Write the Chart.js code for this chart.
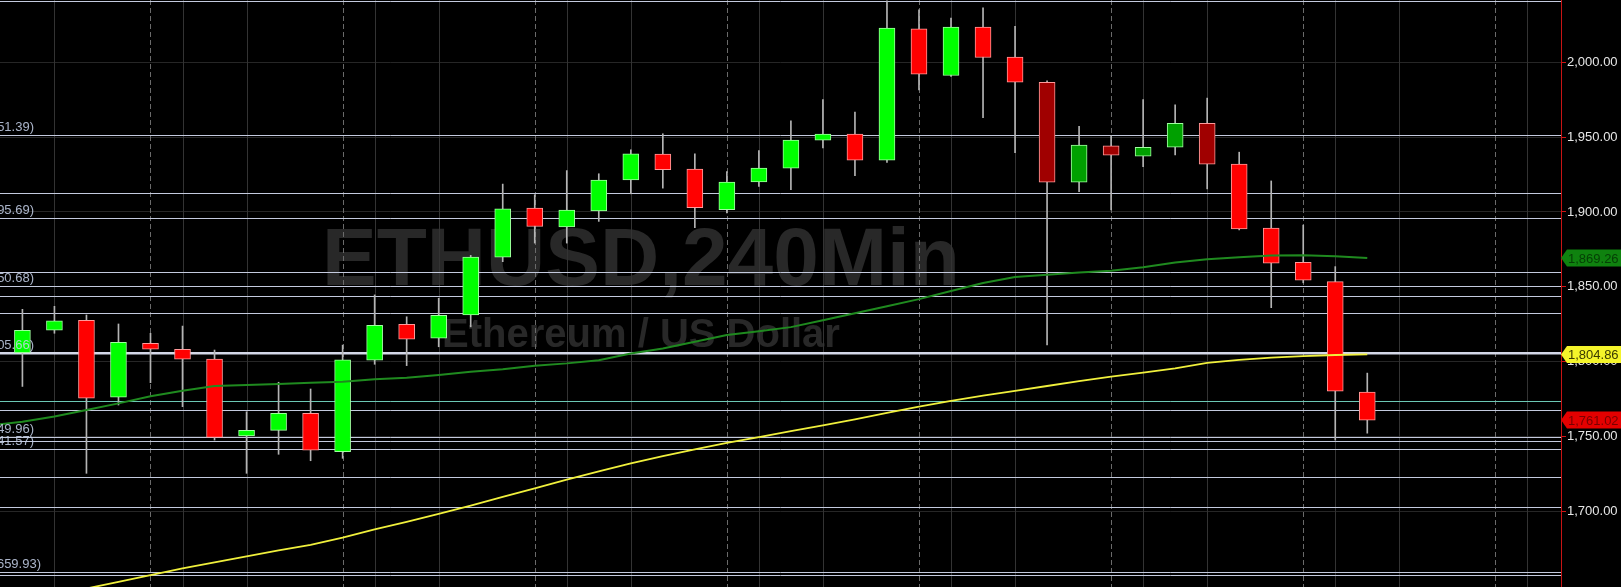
<!DOCTYPE html>
<html>
<head>
<meta charset="utf-8">
<title>ETHUSD,240Min</title>
<script src="https://cdn.jsdelivr.net/npm/chart.js@4.4.0/dist/chart.umd.min.js"></script>
<style>
  html, body { margin: 0; padding: 0; background: #000; overflow: hidden; }
  #wrap { width: 1621px; height: 587px; position: relative; }
</style>
</head>
<body>
<div id="wrap"><canvas id="chart"></canvas></div>
<script>
// 4h candles, oldest first
const opens = [1806, 1821, 1827.7, 1776.3, 1812.3, 1808.3, 1801.7, 1750.4, 1754.2, 1765.6,
  1739.9, 1801, 1825, 1815.7, 1831.2, 1869.8, 1902.6, 1890, 1900.6, 1921.3,
  1938.6, 1928.6, 1901.6, 1920, 1929.3, 1948, 1952, 1934.6, 2022.2, 1991.1,
  2023.5, 2003.4, 1986.6, 1919.9, 1944.1, 1937.3, 1943.2, 1959.2, 1931.9, 1889.2,
  1866.4, 1853.5, 1779.7];
const highs = [1835, 1837, 1831.2, 1825.2, 1819, 1823.8, 1807.8, 1766.6, 1786.3, 1781.8,
  1811.1, 1844.6, 1830, 1842.4, 1871, 1918.6, 1911.5, 1927.6, 1925.5, 1941.5,
  1952.2, 1938.8, 1927, 1940.9, 1960.9, 1975, 1966.7, 2041, 2035, 2029.4,
  2036.2, 2023.9, 1987.5, 1957.1, 1951, 1975, 1971.5, 1976, 1939.9, 1920.7,
  1891.2, 1863.5, 1792.4];
const lows = [1783.5, 1819, 1725.5, 1771.1, 1786, 1770, 1747.7, 1725.5, 1738.2, 1733.9,
  1735.5, 1798.3, 1797.4, 1810, 1823.3, 1866.8, 1879.2, 1879.2, 1893.7, 1912.1,
  1915.9, 1889.5, 1899.3, 1917, 1914.8, 1942.7, 1924.3, 1933, 1981.5, 1990.4,
  1962.9, 1939.5, 1811.3, 1913.6, 1901.3, 1930.3, 1938.1, 1915.4, 1888, 1836.1,
  1852.7, 1747.7, 1752.3];
const closes = [1821, 1827.3, 1775.6, 1813, 1808.3, 1801.7, 1749.5, 1754.2, 1765.6, 1740.9,
  1801.2, 1824.3, 1815, 1831, 1869.8, 1902, 1890.3, 1901.3, 1921.3, 1938.8,
  1928.3, 1902.9, 1920, 1929.3, 1948, 1952, 1934.6, 2022.7, 1992, 2023.5,
  2003.1, 1986.6, 1919.9, 1944.6, 1937.9, 1943.2, 1959.2, 1931.9, 1888.6, 1865.8,
  1854.4, 1780.3, 1761.02];
// candles painted in the dimmer colours
const dimBars = [32, 33, 34, 35, 36, 37];

// moving averages start one bar before the first visible candle
const maStart = -1;
const maGreen = [1757.5, 1760, 1763.5, 1767.7, 1772.2, 1777, 1780.6, 1783.8, 1784.5, 1785.1, 1786,
  1786.7, 1788.3, 1789.3, 1791.1, 1793.3, 1794.9, 1797.3, 1798.9, 1801, 1805.5,
  1808.9, 1813.3, 1817.8, 1820.4, 1823.1, 1827.7, 1832.4, 1837.1, 1841.8, 1847.2,
  1852.6, 1856.6, 1858, 1859.5, 1860.8, 1863.1, 1866.2, 1868.4, 1869.8, 1870.9,
  1871.1, 1870.5, 1869.26];
const maYellow = [1636.5, 1640.5, 1644.8, 1648.6, 1653, 1657.5, 1662, 1666, 1670, 1674, 1677.8,
  1682.5, 1688, 1693, 1698.5, 1704, 1709.8, 1715.5, 1721.3, 1726.8, 1732.2,
  1737, 1741.5, 1745.8, 1749.7, 1753.6, 1757.5, 1761.5, 1765.8, 1770, 1773.8,
  1777.3, 1780.6, 1783.8, 1787, 1790, 1792.7, 1795.6, 1799.3, 1801.2, 1802.7,
  1803.8, 1804.5, 1804.86];

const priceTicks = [1700, 1750, 1800, 1850, 1900, 1950, 2000];
const levels = [2041, 1951.39, 1912.6, 1895.69, 1860.1, 1850.68, 1844.2, 1832.4,
  1767.8, 1749.96, 1747.4, 1741.57, 1722.8, 1703.2, 1659.93, 1657.3];
const mainLevel = 1805.66;
const tealLevel = 1773.9;
const labeledLevels = [1951.39, 1895.69, 1850.68, 1805.66, 1749.96, 1741.57, 1659.93];
const hourTicks = [1, 5, 7, 11, 13, 17, 19, 23, 25, 29, 31, 35, 37, 41, 43, 47];
const dayTicks = [4, 10, 16, 22, 28, 34, 40, 46];

const yMin = 1649.6;
const yMax = 2041.5;
const xMin = -0.7;
const xMax = 48.05;

const FONT = '"Liberation Sans", Arial, sans-serif';
const fmt = (v) => v.toLocaleString('en-US', { minimumFractionDigits: 2, maximumFractionDigits: 2 });

const bodyFill = opens.map((o, i) => {
  const up = closes[i] >= o;
  if (dimBars.includes(i)) return up ? '#00a000' : '#a00000';
  return up ? '#00ff00' : '#ff0000';
});
const bodyEdge = opens.map((o, i) => (closes[i] >= o ? '#a0ffa0' : '#ff9a9a'));

const drawTag = (ctx, yPix, left, right, bg, fg, text) => {
  const h = 17;
  ctx.beginPath();
  ctx.moveTo(left, yPix);
  ctx.lineTo(left + 6, yPix - h / 2);
  ctx.lineTo(right, yPix - h / 2);
  ctx.lineTo(right, yPix + h / 2);
  ctx.lineTo(left + 6, yPix + h / 2);
  ctx.closePath();
  ctx.fillStyle = bg;
  ctx.fill();
  ctx.fillStyle = fg;
  ctx.textAlign = 'left';
  ctx.textBaseline = 'middle';
  ctx.font = `13px ${FONT}`;
  ctx.fillText(text, left + 7, yPix + 1);
};

const overlay = {
  id: 'overlay',
  beforeDatasetsDraw(chart) {
    const { ctx, chartArea: a, scales: { x, y } } = chart;
    ctx.save();

    ctx.fillStyle = '#282828';
    ctx.textAlign = 'center';
    ctx.textBaseline = 'alphabetic';
    ctx.font = `bold 82px ${FONT}`;
    ctx.fillText('ETHUSD,240Min', 641, 285);
    ctx.font = `bold 40px ${FONT}`;
    ctx.fillText('Ethereum / US Dollar', 641, 347);

    ctx.lineWidth = 1;
    ctx.strokeStyle = '#333333';
    hourTicks.forEach((t) => {
      const px = Math.round(x.getPixelForValue(t)) + 0.5;
      if (px > a.right) return;
      ctx.beginPath();
      ctx.moveTo(px, a.top);
      ctx.lineTo(px, a.bottom);
      ctx.stroke();
    });
    ctx.strokeStyle = '#6a6a6a';
    ctx.setLineDash([5, 3]);
    dayTicks.forEach((t) => {
      const px = Math.round(x.getPixelForValue(t)) + 0.5;
      if (px > a.right) return;
      ctx.beginPath();
      ctx.moveTo(px, a.top);
      ctx.lineTo(px, a.bottom);
      ctx.stroke();
    });
    ctx.setLineDash([]);

    ctx.strokeStyle = '#c4cade';
    levels.forEach((lv) => {
      const py = Math.round(y.getPixelForValue(lv)) + 0.5;
      ctx.beginPath();
      ctx.moveTo(a.left, py);
      ctx.lineTo(a.right, py);
      ctx.stroke();
    });
    ctx.strokeStyle = '#6cc8b4';
    let py = Math.round(y.getPixelForValue(tealLevel)) + 0.5;
    ctx.beginPath();
    ctx.moveTo(a.left, py);
    ctx.lineTo(a.right, py);
    ctx.stroke();

    ctx.strokeStyle = '#d4d8e8';
    ctx.lineWidth = 2.5;
    py = y.getPixelForValue(mainLevel);
    ctx.beginPath();
    ctx.moveTo(a.left, py);
    ctx.lineTo(a.right, py);
    ctx.stroke();
    ctx.restore();
  },
  afterDatasetsDraw(chart) {
    const { ctx, scales: { y } } = chart;
    ctx.save();
    ctx.font = `13px ${FONT}`;
    ctx.fillStyle = 'rgba(200, 212, 236, 0.85)';
    ctx.textAlign = 'right';
    ctx.textBaseline = 'alphabetic';
    labeledLevels.forEach((lv, i) => {
      // the lowest label sits a little further right in the reference
      const edge = i === labeledLevels.length - 1 ? 41 : 34;
      ctx.fillText(`(${lv.toFixed(2)})`, edge, y.getPixelForValue(lv) - 4);
    });
    ctx.restore();
  },
  afterDraw(chart) {
    const { ctx, chartArea: a, scales: { y } } = chart;
    const right = chart.width;
    ctx.save();
    const g = maGreen[maGreen.length - 1];
    const yl = maYellow[maYellow.length - 1];
    const last = closes[closes.length - 1];
    drawTag(ctx, y.getPixelForValue(g), a.right, right, '#0f820f', '#053f05', fmt(g));
    drawTag(ctx, y.getPixelForValue(yl), a.right, right, '#f4f42a', '#3a3a00', fmt(yl));
    drawTag(ctx, y.getPixelForValue(last), a.right, right, '#e40000', '#7a0000', fmt(last));
    ctx.restore();
  },
};

new Chart(document.getElementById('chart'), {
  data: {
    datasets: [
      {
        type: 'line',
        data: maGreen.map((v, i) => ({ x: i + maStart, y: v })),
        borderColor: '#1f8a1f',
        borderWidth: 2,
        pointRadius: 0,
        tension: 0,
        order: 0,
      },
      {
        type: 'line',
        data: maYellow.map((v, i) => ({ x: i + maStart, y: v })),
        borderColor: '#f0f03c',
        borderWidth: 1.8,
        pointRadius: 0,
        tension: 0,
        order: 0,
      },
      {
        type: 'bar',
        data: opens.map((o, i) => ({ x: i, y: [o, closes[i]] })),
        backgroundColor: bodyFill,
        borderColor: bodyEdge,
        borderWidth: 1,
        borderSkipped: false,
        barThickness: 16,
        grouped: false,
        order: 1,
      },
      {
        type: 'bar',
        data: lows.map((l, i) => ({ x: i, y: [l, highs[i]] })),
        backgroundColor: '#b4b4b4',
        borderWidth: 0,
        barThickness: 1,
        grouped: false,
        order: 2,
      },
    ],
  },
  options: {
    responsive: true,
    maintainAspectRatio: false,
    animation: false,
    layout: { padding: 0 },
    plugins: {
      legend: { display: false },
      tooltip: { enabled: false },
    },
    scales: {
      x: { type: 'linear', display: false, offset: false, min: xMin, max: xMax },
      y: {
        position: 'right',
        min: yMin,
        max: yMax,
        afterBuildTicks: (s) => { s.ticks = priceTicks.map((v) => ({ value: v })); },
        afterFit: (s) => { s.width = 60; s.paddingTop = 0; s.paddingBottom = 0; },
        grid: { color: '#262626', lineWidth: 1, drawTicks: true, tickLength: 5, tickColor: '#d01414' },
        border: { color: '#c81414', width: 1 },
        ticks: {
          color: '#e6e6e6',
          padding: 1,
          font: { size: 13, family: FONT },
          callback: (v) => fmt(v),
        },
      },
    },
  },
  plugins: [overlay],
});
</script>
</body>
</html>
